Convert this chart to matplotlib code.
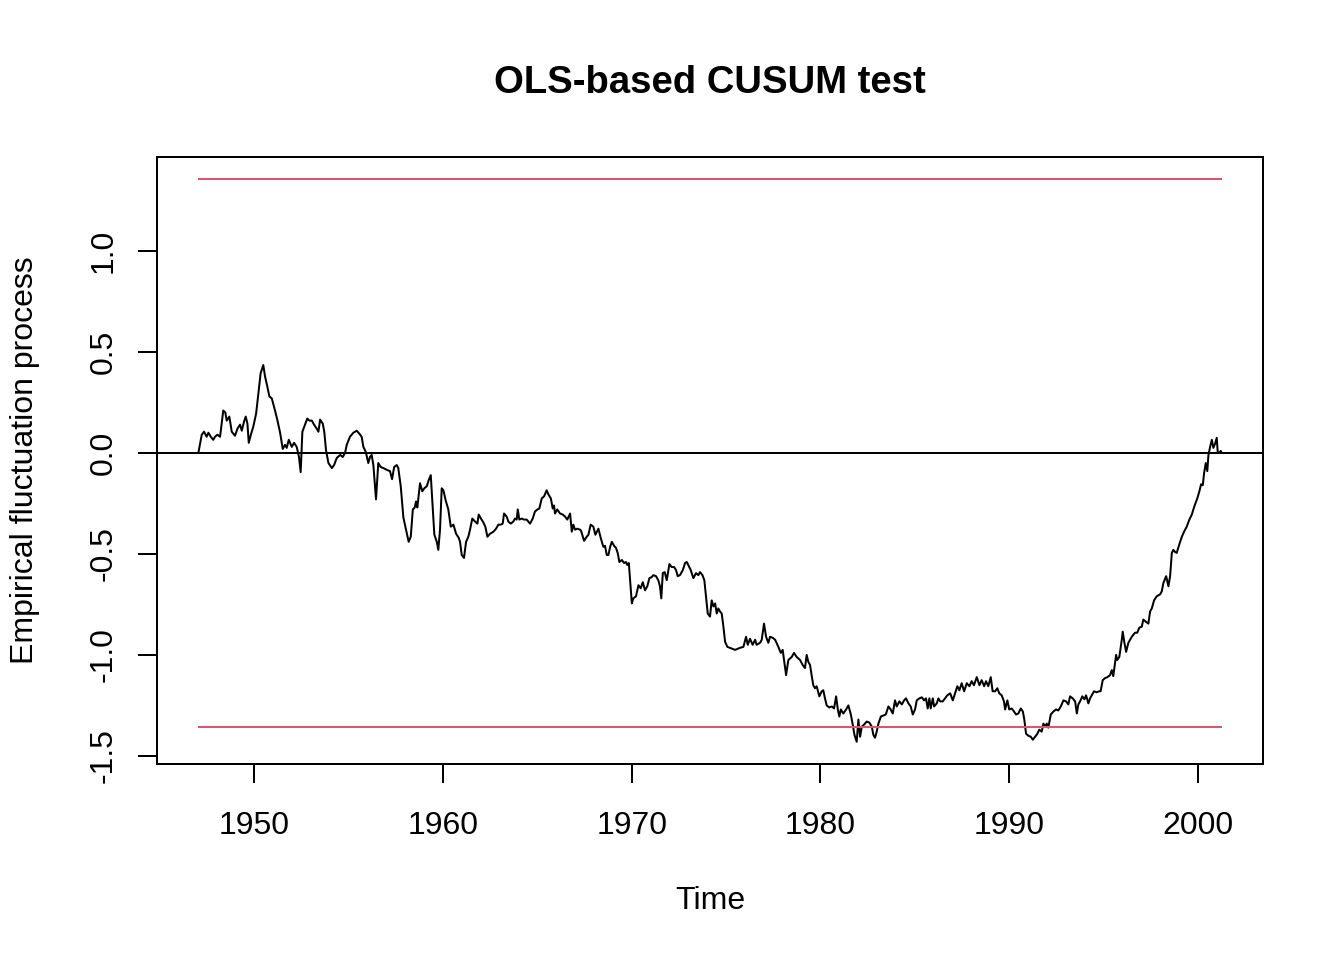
import matplotlib
matplotlib.use('Agg')
import matplotlib.pyplot as plt


# empirical fluctuation process (OLS-based CUSUM)
years = [
    1947.05, 1947.23, 1947.35, 1947.49, 1947.58, 1947.71, 1947.84, 1947.93, 1948.06, 1948.20,
    1948.29, 1948.37, 1948.48, 1948.55, 1948.69, 1948.82, 1948.99, 1949.12, 1949.26, 1949.35,
    1949.47, 1949.56, 1949.65, 1949.72, 1949.83, 1949.96, 1950.11, 1950.23, 1950.35, 1950.49,
    1950.58, 1950.70, 1950.81, 1950.94, 1951.11, 1951.23, 1951.38, 1951.52, 1951.64, 1951.73,
    1951.84, 1952.00, 1952.12, 1952.26, 1952.38, 1952.47, 1952.56, 1952.70, 1952.82, 1952.93,
    1953.06, 1953.18, 1953.32, 1953.41, 1953.50, 1953.64, 1953.72, 1953.81, 1953.94, 1954.12,
    1954.24, 1954.38, 1954.56, 1954.70, 1954.82, 1954.91, 1955.08, 1955.26, 1955.44, 1955.58,
    1955.70, 1955.79, 1955.92, 1956.05, 1956.14, 1956.23, 1956.32, 1956.46, 1956.58, 1956.71,
    1956.85, 1957.06, 1957.20, 1957.31, 1957.42, 1957.56, 1957.64, 1957.77, 1957.91, 1958.05,
    1958.19, 1958.30, 1958.41, 1958.51, 1958.58, 1958.65, 1958.79, 1958.91, 1959.02, 1959.15,
    1959.25, 1959.36, 1959.44, 1959.55, 1959.68, 1959.76, 1959.85, 1959.94, 1960.03, 1960.15,
    1960.29, 1960.42, 1960.56, 1960.70, 1960.84, 1960.91, 1961.00, 1961.12, 1961.23, 1961.35,
    1961.44, 1961.56, 1961.71, 1961.83, 1961.90, 1962.02, 1962.15, 1962.25, 1962.36, 1962.50,
    1962.68, 1962.82, 1962.94, 1963.07, 1963.17, 1963.24, 1963.38, 1963.47, 1963.60, 1963.73,
    1963.82, 1963.91, 1963.97, 1964.05, 1964.18, 1964.30, 1964.44, 1964.62, 1964.76, 1964.88,
    1965.01, 1965.11, 1965.24, 1965.36, 1965.50, 1965.59, 1965.72, 1965.82, 1965.89, 1965.94,
    1966.06, 1966.21, 1966.35, 1966.47, 1966.59, 1966.74, 1966.83, 1966.91, 1967.00, 1967.12,
    1967.27, 1967.32, 1967.48, 1967.62, 1967.71, 1967.83, 1967.97, 1968.08, 1968.24, 1968.36,
    1968.50, 1968.59, 1968.68, 1968.77, 1968.86, 1968.95, 1969.07, 1969.17, 1969.26, 1969.35,
    1969.48, 1969.60, 1969.70, 1969.77, 1969.85, 1969.92, 1970.01, 1970.09, 1970.23, 1970.36,
    1970.48, 1970.59, 1970.71, 1970.83, 1970.94, 1971.06, 1971.15, 1971.29, 1971.41, 1971.50,
    1971.57, 1971.65, 1971.75, 1971.86, 1972.00, 1972.12, 1972.25, 1972.35, 1972.44, 1972.56,
    1972.71, 1972.83, 1972.92, 1973.00, 1973.13, 1973.27, 1973.41, 1973.53, 1973.62, 1973.75,
    1973.85, 1973.94, 1974.03, 1974.15, 1974.24, 1974.33, 1974.42, 1974.51, 1974.59, 1974.68,
    1974.77, 1974.86, 1974.95, 1975.07, 1975.21, 1975.48, 1975.74, 1975.92, 1976.06, 1976.15,
    1976.27, 1976.41, 1976.54, 1976.62, 1976.80, 1976.89, 1977.01, 1977.12, 1977.24, 1977.33,
    1977.47, 1977.60, 1977.77, 1977.90, 1978.00, 1978.07, 1978.18, 1978.30, 1978.48, 1978.60,
    1978.74, 1978.92, 1979.06, 1979.18, 1979.27, 1979.36, 1979.45, 1979.54, 1979.62, 1979.71,
    1979.80, 1979.94, 1980.07, 1980.15, 1980.24, 1980.33, 1980.47, 1980.60, 1980.72, 1980.83,
    1980.92, 1981.00, 1981.08, 1981.21, 1981.36, 1981.48, 1981.61, 1981.71, 1981.80, 1981.92,
    1982.01, 1982.10, 1982.19, 1982.31, 1982.45, 1982.59, 1982.72, 1982.80, 1982.89, 1982.98,
    1983.07, 1983.20, 1983.33, 1983.46, 1983.60, 1983.72, 1983.83, 1983.95, 1984.04, 1984.18,
    1984.31, 1984.43, 1984.53, 1984.66, 1984.78, 1984.89, 1985.01, 1985.10, 1985.24, 1985.37,
    1985.49, 1985.59, 1985.68, 1985.77, 1985.84, 1985.95, 1986.02, 1986.16, 1986.25, 1986.34,
    1986.48, 1986.60, 1986.72, 1986.87, 1987.01, 1987.13, 1987.25, 1987.36, 1987.48, 1987.61,
    1987.75, 1987.89, 1988.01, 1988.13, 1988.28, 1988.42, 1988.54, 1988.67, 1988.77, 1988.89,
    1989.02, 1989.12, 1989.25, 1989.37, 1989.47, 1989.60, 1989.72, 1989.78, 1989.90, 1990.00,
    1990.13, 1990.25, 1990.36, 1990.48, 1990.61, 1990.72, 1990.79, 1990.89, 1991.01, 1991.14,
    1991.25, 1991.37, 1991.49, 1991.59, 1991.72, 1991.81, 1991.90, 1991.99, 1992.07, 1992.20,
    1992.34, 1992.48, 1992.60, 1992.73, 1992.87, 1993.01, 1993.13, 1993.22, 1993.36, 1993.49,
    1993.58, 1993.66, 1993.75, 1993.87, 1993.98, 1994.07, 1994.19, 1994.28, 1994.37, 1994.49,
    1994.63, 1994.76, 1994.84, 1994.95, 1995.07, 1995.20, 1995.34, 1995.43, 1995.51, 1995.66,
    1995.72, 1995.83, 1995.96, 1996.01, 1996.10, 1996.19, 1996.31, 1996.49, 1996.66, 1996.78,
    1996.89, 1997.02, 1997.10, 1997.23, 1997.37, 1997.46, 1997.55, 1997.67, 1997.81, 1997.99,
    1998.08, 1998.16, 1998.31, 1998.43, 1998.52, 1998.61, 1998.69, 1998.78, 1998.87, 1999.00,
    1999.14, 1999.26, 1999.40, 1999.54, 1999.67, 1999.75, 1999.84, 1999.96, 2000.07, 2000.16,
    2000.25, 2000.32, 2000.41, 2000.49, 2000.55, 2000.64, 2000.73, 2000.81, 2000.90, 2000.99,
    2001.04, 2001.13, 2001.20, 2001.25,
]

process = [
    0.000, 0.090, 0.105, 0.080, 0.100, 0.080, 0.065, 0.080, 0.090, 0.080,
    0.150, 0.210, 0.200, 0.160, 0.180, 0.105, 0.085, 0.120, 0.140, 0.110,
    0.155, 0.180, 0.145, 0.050, 0.090, 0.130, 0.195, 0.295, 0.395, 0.435,
    0.380, 0.330, 0.280, 0.270, 0.210, 0.165, 0.100, 0.020, 0.040, 0.025,
    0.065, 0.030, 0.050, 0.030, -0.020, -0.095, 0.105, 0.140, 0.170, 0.160,
    0.160, 0.140, 0.120, 0.105, 0.165, 0.145, 0.105, 0.015, -0.050, -0.075,
    -0.060, -0.025, -0.010, -0.020, 0.000, 0.040, 0.080, 0.100, 0.110, 0.095,
    0.080, 0.030, 0.005, -0.050, -0.020, -0.010, -0.060, -0.230, -0.050, -0.070,
    -0.075, -0.085, -0.090, -0.130, -0.070, -0.060, -0.075, -0.165, -0.320, -0.380,
    -0.440, -0.415, -0.280, -0.270, -0.240, -0.270, -0.150, -0.190, -0.175, -0.165,
    -0.135, -0.110, -0.235, -0.405, -0.440, -0.480, -0.380, -0.175, -0.185, -0.235,
    -0.280, -0.365, -0.355, -0.400, -0.420, -0.440, -0.505, -0.520, -0.440, -0.415,
    -0.380, -0.325, -0.340, -0.350, -0.305, -0.325, -0.345, -0.365, -0.415, -0.400,
    -0.390, -0.375, -0.355, -0.355, -0.350, -0.300, -0.315, -0.340, -0.350, -0.340,
    -0.325, -0.330, -0.280, -0.330, -0.325, -0.330, -0.330, -0.350, -0.325, -0.290,
    -0.280, -0.275, -0.225, -0.215, -0.185, -0.205, -0.225, -0.275, -0.260, -0.300,
    -0.280, -0.300, -0.305, -0.315, -0.330, -0.300, -0.390, -0.355, -0.380, -0.375,
    -0.380, -0.385, -0.435, -0.415, -0.405, -0.355, -0.365, -0.405, -0.375, -0.420,
    -0.465, -0.460, -0.505, -0.505, -0.465, -0.440, -0.460, -0.470, -0.495, -0.540,
    -0.530, -0.545, -0.540, -0.555, -0.545, -0.630, -0.745, -0.720, -0.710, -0.655,
    -0.670, -0.640, -0.680, -0.660, -0.620, -0.615, -0.605, -0.610, -0.630, -0.660,
    -0.720, -0.595, -0.590, -0.630, -0.550, -0.565, -0.565, -0.580, -0.610, -0.605,
    -0.580, -0.545, -0.540, -0.555, -0.580, -0.620, -0.595, -0.605, -0.590, -0.605,
    -0.630, -0.710, -0.795, -0.810, -0.730, -0.760, -0.745, -0.795, -0.770, -0.785,
    -0.795, -0.860, -0.935, -0.960, -0.965, -0.975, -0.965, -0.960, -0.910, -0.950,
    -0.920, -0.950, -0.925, -0.950, -0.940, -0.925, -0.845, -0.910, -0.940, -0.910,
    -0.915, -0.925, -0.960, -0.990, -0.975, -1.025, -1.100, -1.025, -1.010, -0.990,
    -1.010, -1.025, -1.050, -1.065, -1.000, -1.035, -1.050, -1.105, -1.150, -1.165,
    -1.155, -1.205, -1.180, -1.175, -1.215, -1.250, -1.260, -1.255, -1.265, -1.205,
    -1.270, -1.305, -1.270, -1.290, -1.270, -1.250, -1.295, -1.345, -1.395, -1.430,
    -1.320, -1.405, -1.355, -1.345, -1.330, -1.335, -1.355, -1.395, -1.410, -1.380,
    -1.340, -1.305, -1.300, -1.295, -1.255, -1.270, -1.290, -1.225, -1.255, -1.230,
    -1.245, -1.225, -1.215, -1.240, -1.255, -1.295, -1.270, -1.225, -1.215, -1.210,
    -1.225, -1.215, -1.265, -1.215, -1.265, -1.215, -1.255, -1.240, -1.215, -1.230,
    -1.230, -1.215, -1.200, -1.190, -1.225, -1.190, -1.155, -1.175, -1.140, -1.180,
    -1.140, -1.155, -1.130, -1.150, -1.110, -1.150, -1.125, -1.155, -1.130, -1.155,
    -1.110, -1.180, -1.180, -1.165, -1.190, -1.200, -1.230, -1.270, -1.225, -1.270,
    -1.265, -1.280, -1.295, -1.290, -1.265, -1.280, -1.315, -1.390, -1.400, -1.405,
    -1.420, -1.405, -1.390, -1.370, -1.380, -1.340, -1.355, -1.340, -1.360, -1.295,
    -1.280, -1.270, -1.275, -1.255, -1.225, -1.230, -1.245, -1.205, -1.215, -1.230,
    -1.290, -1.245, -1.230, -1.205, -1.220, -1.200, -1.240, -1.215, -1.200, -1.180,
    -1.185, -1.180, -1.180, -1.125, -1.115, -1.110, -1.100, -1.075, -1.105, -1.000,
    -1.025, -1.010, -0.925, -0.885, -0.940, -0.985, -0.940, -0.910, -0.890, -0.890,
    -0.865, -0.860, -0.825, -0.835, -0.845, -0.785, -0.770, -0.730, -0.710, -0.700,
    -0.685, -0.645, -0.610, -0.660, -0.610, -0.495, -0.480, -0.490, -0.495, -0.455,
    -0.415, -0.390, -0.365, -0.330, -0.305, -0.280, -0.255, -0.225, -0.190, -0.155,
    -0.160, -0.100, -0.050, -0.090, -0.010, 0.030, 0.065, 0.025, 0.045, 0.075,
    0.005, 0.000, 0.010, 0.000,
]

boundary = 1.358
x_ticks = [1950, 1960, 1970, 1980, 1990, 2000]
y_ticks = [-1.5, -1.0, -0.5, 0.0, 0.5, 1.0]
y_ticklabels = ['-1.5', '-1.0', '-0.5', '0.0', '0.5', '1.0']

plt.rcParams['font.family'] = ['Liberation Sans', 'DejaVu Sans']

fig = plt.figure(figsize=(13.44, 9.6), dpi=100)
ax = fig.add_axes([157 / 1344, 1 - 764 / 960, (1263 - 157) / 1344, (764 - 157) / 960])

lw = 1.44
ax.plot(years, process, color='black', linewidth=lw)
ax.axhline(0, color='black', linewidth=lw)
ax.hlines([boundary, -boundary], years[0], years[-1], color='#DF536B', linewidth=lw)

ax.set_xlim(1944.86, 2003.44)
ax.set_ylim(-1.54, 1.465)

ax.set_xticks(x_ticks)
ax.set_yticks(y_ticks)
ax.set_yticklabels(y_ticklabels, rotation=90, va='center')
ax.tick_params(axis='both', direction='out', length=13.8, width=lw, labelsize=23)
ax.tick_params(axis='x', pad=20)
ax.tick_params(axis='y', pad=14)
for side in ax.spines.values():
    side.set_linewidth(lw)

fig.text(710 / 1344, 1 - 83 / 960, 'OLS-based CUSUM test', ha='center', va='center',
         fontsize=27.5, fontweight='bold')
fig.text(710 / 1344, 1 - 901 / 960, 'Time', ha='center', va='center', fontsize=23)
fig.text(25 / 1344, 1 - 460 / 960, 'Empirical fluctuation process', ha='center', va='center',
         rotation=90, fontsize=23)

fig.savefig('out.png', dpi=100)
